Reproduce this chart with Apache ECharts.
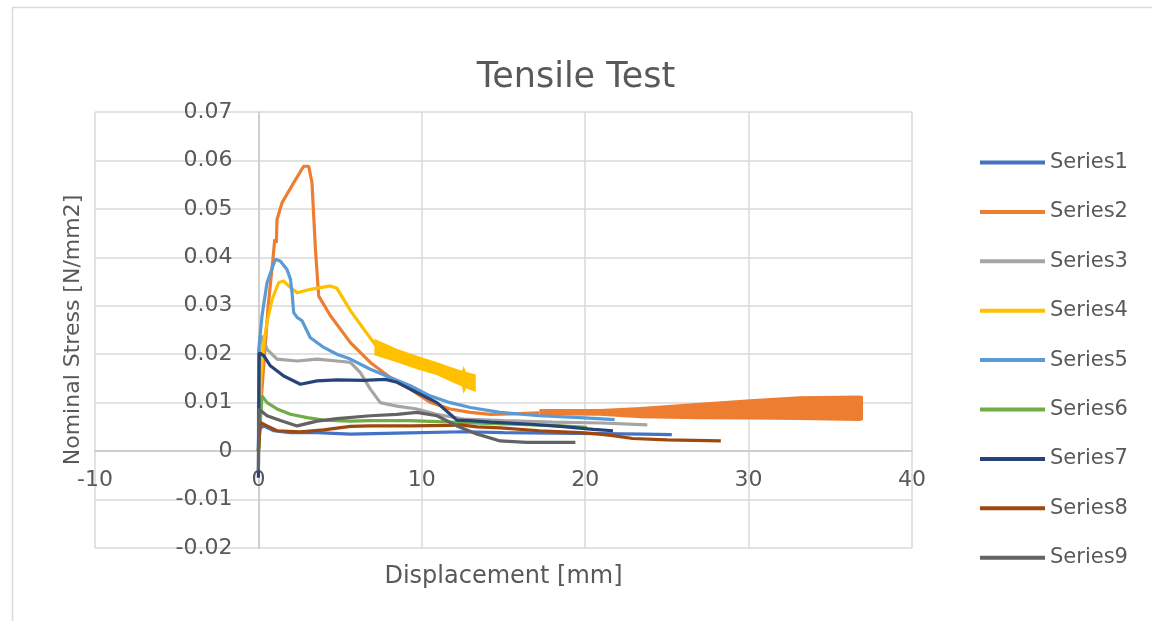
<!DOCTYPE html>
<html>
<head>
<meta charset="utf-8">
<title>Tensile Test</title>
<script src="https://cdn.jsdelivr.net/npm/echarts@6/dist/echarts.min.js"></script>
<style>
  html, body { margin: 0; padding: 0; background: #fff; }
  #chart { width: 1152px; height: 621px; }
</style>
</head>
<body>
<div id="chart"></div>
<script>
// names and Excel default palette
var seriesNames = ['Series1', 'Series2', 'Series3', 'Series4', 'Series5', 'Series6', 'Series7', 'Series8', 'Series9'];
var seriesColors = ['#4472C4', '#ED7D31', '#A5A5A5', '#FFC000', '#5B9BD5', '#70AD47', '#264478', '#9E480E', '#636363'];

// [displacement mm, stress N/mm2]
var s1 = [[0,0],[0.02,0.0045],[0.33,0.0052],[0.94,0.0042],[1.96,0.0038],[3.59,0.0038],[5.63,0.0035],[8.5,0.0037],[12.56,0.004],[15,0.0038],[18,0.0037],[21,0.0036],[23.5,0.0035],[25.3,0.0034]];
var s2 = [[0,0],[0.2,0.012],[0.6,0.03],[0.9,0.04],[1.0,0.0437],[1.1,0.043],[1.14,0.0478],[1.45,0.0513],[2.16,0.0554],[2.77,0.0588],[3.08,0.0588],[3.28,0.0554],[3.49,0.0417],[3.69,0.032],[4.4,0.028],[5.63,0.0224],[6.85,0.0183],[8.07,0.0152],[9.3,0.0128],[10.5,0.0101],[11.74,0.0087],[12.97,0.008],[14.2,0.0076],[15.5,0.0077],[17.2,0.0079]];
var s2BandTop = [[17.2,0.0087],[20.9,0.0087],[23.4,0.0091],[27.0,0.0100],[30.1,0.0107],[33.1,0.0113],[36.8,0.0115],[37.0,0.0113]];
var s2BandBottom = [[17.2,0.0074],[20.9,0.0073],[23.4,0.0068],[27.0,0.0066],[30.1,0.0065],[33.1,0.0064],[36.8,0.0062],[37.0,0.0064]];
var s3 = [[0,0],[0.1,0.022],[0.22,0.0238],[0.53,0.021],[1.14,0.019],[2.37,0.0186],[3.59,0.019],[4.81,0.0186],[5.63,0.0183],[6.24,0.0162],[6.85,0.0128],[7.46,0.01],[8.48,0.0093],[9.7,0.0087],[10.9,0.0076],[12.56,0.0066],[15,0.0063],[18,0.006],[21,0.0058],[23.8,0.0054]];
var s4 = [[0,0],[0.15,0.015],[0.33,0.0224],[0.53,0.0266],[0.84,0.0313],[1.24,0.0348],[1.55,0.0351],[1.85,0.0341],[2.37,0.0327],[3.18,0.0334],[4.4,0.0341],[4.81,0.0336],[5.63,0.029],[6.44,0.0252],[7.26,0.0215]];
var s4BandTop = [[7.1,0.0232],[8.5,0.0211],[9.7,0.0197],[10.9,0.0184],[12.0,0.0171],[12.45,0.0166],[12.56,0.0175],[12.7,0.0164],[13.3,0.0158]];
var s4BandBottom = [[7.1,0.0198],[8.5,0.0183],[9.7,0.0169],[10.9,0.0157],[12.0,0.014],[12.45,0.0134],[12.56,0.0118],[12.7,0.013],[13.3,0.0122]];
var s5 = [[0,0],[0.02,0.021],[0.22,0.0279],[0.53,0.0348],[1.04,0.0396],[1.35,0.0392],[1.75,0.0375],[1.96,0.0355],[2.06,0.0327],[2.16,0.0286],[2.37,0.0276],[2.67,0.0269],[3.18,0.0234],[4.0,0.0214],[4.81,0.02],[5.63,0.019],[6.85,0.0169],[8.07,0.0152],[9.3,0.0135],[10.5,0.0114],[11.74,0.01],[12.97,0.009],[14.8,0.008],[17.2,0.0073],[19.7,0.0069],[21.8,0.0065]];
var s6 = [[0,0],[0.22,0.0114],[0.53,0.01],[1.14,0.0087],[1.96,0.0076],[2.98,0.0069],[4.0,0.0064],[5.63,0.0062],[6.85,0.0063],[9.3,0.0063],[11.74,0.006],[14,0.0057],[16,0.0055],[18.5,0.0052],[20.1,0.0049]];
var s7 = [[0,-0.0055],[0.05,0.0203],[0.33,0.0197],[0.73,0.0176],[1.55,0.0155],[2.57,0.0138],[3.59,0.0145],[4.81,0.0147],[6.44,0.0146],[7.77,0.0148],[8.48,0.0142],[9.7,0.0121],[10.93,0.01],[11.74,0.0076],[12.15,0.0064],[12.97,0.0063],[14.2,0.006],[16.4,0.0056],[18.5,0.0051],[20.5,0.0045],[21.7,0.0042]];
var s8 = [[0,0],[0.12,0.0059],[0.53,0.0052],[1.14,0.0042],[2.57,0.004],[4.0,0.0044],[5.63,0.0051],[6.85,0.0052],[9.3,0.0052],[11.74,0.0053],[12.35,0.0054],[13.4,0.005],[14.8,0.0048],[17.2,0.0042],[19.7,0.0038],[20.9,0.0035],[21.7,0.0032],[22.9,0.0026],[25,0.0023],[28.3,0.0021]];
var s9 = [[0,-0.004],[0.02,0.0087],[0.12,0.0087],[0.53,0.0073],[1.35,0.0063],[2.37,0.0052],[3.59,0.0062],[4.81,0.0067],[6.85,0.0073],[8.48,0.0076],[9.7,0.008],[10.93,0.0073],[12.15,0.0052],[13.4,0.0035],[14.8,0.0021],[16.4,0.0018],[19.4,0.0018]];
var lines = [s1, s2, s3, s4, s5, s6, s7, s8, s9];

var xMin = -10, xMax = 40, xStep = 10;
var yMin = -0.02, yMax = 0.07, yStep = 0.01;

var textColor = '#595959';
var font = 'DejaVu Sans';

// plot box in px
var gridLeft = 95, gridRight = 240, gridTop = 112, gridBottom = 73;
var plotW = 1152 - gridLeft - gridRight;
var plotH = 621 - gridTop - gridBottom;
// Excel draws the axes through 0, so shift them in from the box edges
var yAxisShift = plotW * (0 - xMin) / (xMax - xMin);
var xAxisShift = plotH * (0 - yMin) / (yMax - yMin);

var chart = echarts.init(document.getElementById('chart'));

function lineSeries(i) {
    return {
        name: seriesNames[i],
        type: 'line',
        data: lines[i],
        symbol: 'none',
        lineStyle: { width: 3.2, color: seriesColors[i] },
        itemStyle: { color: seriesColors[i] },
        animation: false
    };
}

// noisy parts of the curve drawn as a filled band between the read edges
function bandSeries(i, top, bottom) {
    var poly = top.concat(bottom.slice().reverse());
    return {
        name: seriesNames[i],
        type: 'custom',
        data: poly,
        itemStyle: { color: seriesColors[i] },
        animation: false,
        renderItem: function (params, api) {
            if (params.dataIndex !== 0) return null;
            return {
                type: 'polygon',
                shape: { points: poly.map(function (p) { return api.coord(p); }) },
                style: { fill: seriesColors[i] }
            };
        }
    };
}

var series = [];
for (var i = 0; i < lines.length; i++) {
    series.push(lineSeries(i));
    if (i === 1) series.push(bandSeries(1, s2BandTop, s2BandBottom));
    if (i === 3) series.push(bandSeries(3, s4BandTop, s4BandBottom));
}

var option = {
    backgroundColor: '#fff',
    color: seriesColors,
    animation: false,
    title: {
        text: 'Tensile Test',
        left: 'center',
        top: 55,
        textStyle: { fontFamily: font, fontSize: 35, fontWeight: 'normal', color: textColor }
    },
    graphic: [{
        type: 'rect',
        left: 10, top: 5,
        shape: { width: 1200, height: 700 },
        style: { fill: 'none', stroke: '#d9d9d9', lineWidth: 1.5 },
        silent: true
    }],
    legend: {
        orient: 'vertical',
        left: 975,
        top: 147,
        data: seriesNames,
        icon: 'rect',
        itemWidth: 65,
        itemHeight: 4,
        itemGap: 28.4,
        textStyle: { fontFamily: font, fontSize: 21, lineHeight: 20, color: textColor }
    },
    grid: {
        left: gridLeft, right: gridRight, top: gridTop, bottom: gridBottom,
        containLabel: false, outerBoundsMode: 'none'
    },
    xAxis: {
        type: 'value',
        min: xMin, max: xMax, interval: xStep,
        offset: -xAxisShift,
        name: 'Displacement [mm]',
        nameLocation: 'middle',
        nameGap: 114,
        nameTextStyle: { fontFamily: font, fontSize: 24, color: textColor },
        axisLine: { onZero: false, lineStyle: { color: '#c8c8c8', width: 1.5 } },
        axisTick: { show: false },
        axisLabel: { margin: 18, fontFamily: font, fontSize: 22, color: textColor },
        splitLine: { show: true, lineStyle: { color: '#d9d9d9', width: 1.5 } }
    },
    yAxis: {
        type: 'value',
        min: yMin, max: yMax, interval: yStep,
        offset: -yAxisShift,
        name: 'Nominal Stress [N/mm2]',
        nameLocation: 'middle',
        nameGap: 174,
        nameTextStyle: { fontFamily: font, fontSize: 22, color: textColor },
        axisLine: { show: true, onZero: false, lineStyle: { color: '#c8c8c8', width: 1.5 } },
        axisTick: { show: false },
        axisLabel: {
            margin: 26, fontFamily: font, fontSize: 22, color: textColor,
            formatter: function (v) { return String(Math.round(v * 100) / 100); }
        },
        splitLine: { show: true, lineStyle: { color: '#d9d9d9', width: 1.5 } }
    },
    series: series
};

chart.setOption(option);
</script>
</body>
</html>
